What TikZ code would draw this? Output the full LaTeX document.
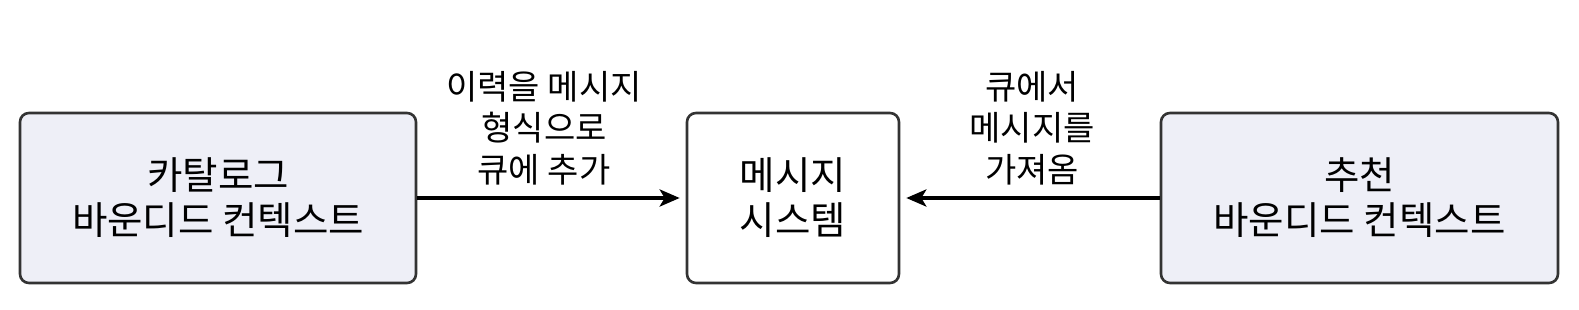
\documentclass[tikz,border=0pt]{standalone}
\usepackage{fontspec}
\setmainfont{Noto Sans CJK KR}
\usetikzlibrary{arrows.meta}
\definecolor{boxfill}{HTML}{EEEFF7}
\definecolor{boxline}{HTML}{333333}
\tikzset{
  ctxbox/.style={draw=boxline, line width=2.6pt, rounded corners=9pt, fill=boxfill,
    minimum height=170pt, align=center, font=\fontsize{38.5}{45}\selectfont, inner sep=0pt},
  sysbox/.style={ctxbox, fill=white},
  lbl/.style={align=center, font=\fontsize{34}{41.5}\selectfont, inner sep=0pt},
  flow/.style={line width=4pt, -{Stealth[length=20pt,width=17pt,inset=5pt]}, shorten >=6pt}
}
\begin{document}
\begin{tikzpicture}[x=1pt,y=-1pt]
\useasboundingbox (0,0) rectangle (1579,310);
\node[ctxbox, minimum width=396pt] (cat) at (218,198) {카탈로그\\바운디드 컨텍스트};
\node[sysbox, minimum width=212pt] (msg) at (793,198) {메시지\\시스템};
\node[ctxbox, minimum width=397pt] (rec) at (1359.5,198) {추천\\바운디드 컨텍스트};
\node[lbl] (l1) at (544,128) {이력을 메시지\\형식으로\\큐에 추가};
\node[lbl] (l2) at (1032,128) {큐에서\\메시지를\\가져옴};
\draw[flow] (cat.east) -- (msg.west);
\draw[flow] (rec.west) -- (msg.east);
\end{tikzpicture}
\end{document}
